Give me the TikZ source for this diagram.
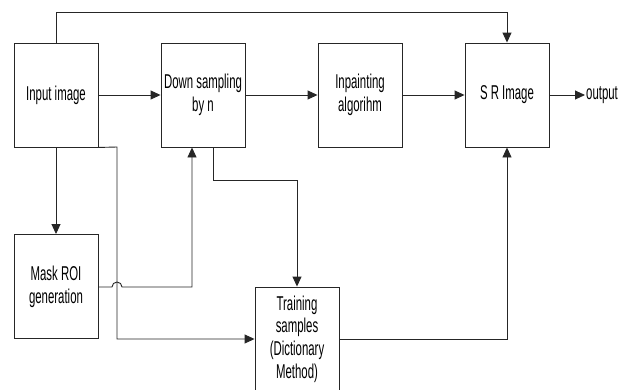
\documentclass[tikz,border=0pt]{standalone}
\usepackage{fontspec}
\setmainfont{Liberation Sans}[FakeStretch=0.57]
\usetikzlibrary{arrows.meta}
\begin{document}
\begin{tikzpicture}[x=1pt,y=-1pt,
  blk/.style={draw=black!85,line width=0.9pt,minimum width=84pt,minimum height=104pt,inner sep=0pt,
    align=center,font=\fontsize{20pt}{22.7pt}\selectfont},
  con/.style={draw=black!85,line width=0.9pt},
  arr/.style={con,-{Triangle[length=10pt,width=9pt]}},
  lbl/.style={font=\fontsize{20pt}{22.7pt}\selectfont,inner sep=1pt}]
\useasboundingbox (0,0) rectangle (619,389);
\node[blk] (inp) at (56,95) {Input image};
\node[blk] (down) at (203,95) {Down sampling\\by n};
\node[blk] (inpa) at (360,95) {Inpainting\\algorihm};
\node[blk] (sr) at (507,95) {S R Image};
\node[blk] (mask) at (56,286.5) {Mask ROI\\generation};
\node[blk] (train) at (297,339) {Training\\samples\\(Dictionary\\Method)};
\coordinate (out) at (585,95);
\node[lbl,anchor=west] (outl) at (out) {output};
\draw[arr] (inp) -- (down);
\draw[arr] (down) -- (inpa);
\draw[arr] (inpa) -- (sr);
\draw[arr] (sr) -- (out);
\draw[arr] (inp.north) -- (56,12) -- (507,12) -- (sr.north);
\draw[arr] (inp.south) -- (mask.north);
\draw[arr] (inp.south east) -- (117,147) -- (117,339) -- (train.west);
\draw[arr] (mask.east |- 0,287) -- (112,287) arc[start angle=180,end angle=360,radius=5] -- (192,287) -- (down.south -| 192,0);
\draw[arr] (down.south -| 213,0) -- (213,180) -- (297,180) -- (train.north);
\draw[arr] (train.east) -- (507,339) -- (sr.south);
\end{tikzpicture}
\end{document}
